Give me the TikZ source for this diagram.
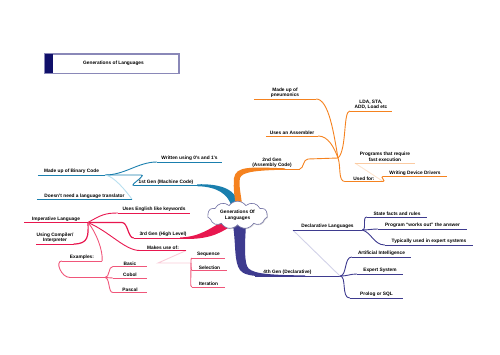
\documentclass[tikz,border=0pt]{standalone}
\usepackage{fontspec}
\setmainfont{Liberation Sans}
\usetikzlibrary{shapes.symbols,shadows}
\definecolor{teal1}{HTML}{1A7FAE}
\definecolor{teallt}{HTML}{B8DFEF}
\definecolor{orng}{HTML}{F5821F}
\definecolor{orlt}{HTML}{FBCBA2}
\definecolor{orfaint}{HTML}{FDE4CE}
\definecolor{crim}{HTML}{E8174F}
\definecolor{pinkl}{HTML}{F0567A}
\definecolor{pinkf}{HTML}{F9CCD8}
\definecolor{indg}{HTML}{3E3B8F}
\definecolor{indf}{HTML}{D2D2E8}
\definecolor{navy}{HTML}{10106A}
\definecolor{cloudline}{HTML}{7474A6}
\definecolor{boxline}{HTML}{8A88B8}
\begin{document}
\begin{tikzpicture}[x=1pt,y=-1pt,
  every node/.style={font=\fontsize{4.8}{5.6}\selectfont\bfseries},
  topic/.style={anchor=south, inner xsep=0pt, inner ysep=1.2pt, align=center},
  conn/.style={line width=0.9pt},
  heavy/.style={line width=1.2pt}]
\useasboundingbox (0,0) rectangle (500,354);

% title
\node[draw=boxline, fill=white, line width=0.6pt, minimum width=134, minimum height=19, inner sep=0pt,
  drop shadow={shadow xshift=1pt, shadow yshift=-1pt, opacity=0.35}] (tbox) at (111.5,63.5) {};
\fill[navy] (tbox.north west) rectangle ([xshift=9pt]tbox.south west);
\draw[boxline, line width=0.6pt] (tbox.north west) rectangle (tbox.south east);
\node (ttext) at (113.5,63.5) {Generations of Languages};

% thick branches
\fill[teal1] (197,184.3) .. controls (222,183.5) and (236,190) .. (239,204)
  -- (231,205) .. controls (228,195) and (218,186.5) .. (197,186.2) -- cycle;
\fill[orng] (285,168.3) .. controls (250,167) and (236,166) .. (234,178)
  .. controls (233,190) and (235,198) .. (235.5,204)
  -- (242,204) .. controls (241,195) and (238.5,185) .. (240,178)
  .. controls (242,172) and (255,170.3) .. (285,169.7) -- cycle;
\fill[crim] (180,237.4) .. controls (200,237) and (210,228) .. (223,221.5)
  -- (231,226) .. controls (218,235) and (205,240) .. (180,238.8) -- cycle;
\fill[indg] (233,225) .. controls (236,245) and (234,262) .. (240,270)
  .. controls (245,276.5) and (255,277) .. (305,276.8)
  -- (305,275.4) .. controls (262,275) and (250,273) .. (247,266)
  .. controls (244,258) and (245,240) .. (246,225) -- cycle;

% root
\node[cloud, cloud puffs=11, cloud puff arc=110, aspect=2.3, draw=cloudline, fill=white,
  line width=0.6pt, minimum width=60, minimum height=27, inner sep=0pt, align=center,
  drop shadow={shadow xshift=0.8pt, shadow yshift=-0.8pt, opacity=0.3}] (root) at (237.5,215)
  {Generations Of\\Languages};

% ---- 1st Gen
\node[topic, minimum width=64] (g1) at (166,185.5) {1st Gen (Machine Code)};
\node[topic, minimum width=67] (bin) at (71.5,175) {Made up of Binary Code};
\node[topic, minimum width=65] (wri) at (189.5,162) {Written using 0’s and 1’s};
\node[topic, minimum width=95] (tra) at (84.5,199.5) {Doesn’t need a language translator};
\coordinate (j1) at (105,175);
\coordinate (h1) at (141,175);
\draw[teal1, conn] (g1.south west) .. controls +(-5,0) and +(6,0) .. (h1) -- (j1);
\draw[teal1, conn] (j1) .. controls (125,175) and (138,162) .. (wri.south west);
\draw[teallt, conn] (tra.south east) .. controls (126,191) and (114,176) .. (j1);

% ---- 2nd Gen
\node[topic, minimum width=55] (g2) at (272,169) {2nd Gen\\(Assembly Code)};
\node[topic, minimum width=62] (pne) at (285,99) {Made up of\\pneumonics};
\node[topic, minimum width=52] (asm) at (292,136) {Uses an Assembler};
\node[topic, minimum width=42] (lda) at (371,111) {LDA, STA,\\ADD, Load etc};
\node[topic, minimum width=38] (usd) at (364,181.5) {Used for:};
\node[topic, minimum width=60] (prg) at (385,163) {Programs that require\\fast execution};
\node[topic, minimum width=64] (drv) at (415,176.5) {Writing Device Drivers};
\coordinate (j2) at (338,158);
\coordinate (h2) at (308,159);
\draw[orng, conn] (g2.south east) .. controls +(4,0) and +(-5,0) .. (h2) -- (j2);
\draw[orng, conn] (pne.south east) .. controls (329,99) and (334,135) .. (j2);
\draw[orng, conn] (asm.south east) .. controls (328,136) and (334,147) .. (j2);
\draw[orng, conn] (j2) .. controls (347,150) and (343,111) .. (lda.south west);
\draw[orng, conn] (j2) .. controls (341,166) and (338,181.5) .. (usd.south west);
\draw[orfaint, conn] (usd.south east) -- (prg.south west);
\draw[orng, conn] (usd.south east) .. controls +(3,0) and +(-3,0) .. (drv.south west);

% ---- 3rd Gen
\node[topic, minimum width=58] (g3) at (163,238) {3rd Gen (High Level)};
\node[topic, minimum width=63] (imp) at (56,222.5) {Imperative Language};
\node[topic, minimum width=72] (eng) at (154,213) {Uses English like keywords};
\node[topic, minimum width=30] (cmp) at (55,244) {Using Compiler/\\Interpreter};
\node[topic, minimum width=46] (mak) at (163,250.5) {Makes use of:};
\node[topic, minimum width=40] (exa) at (82,261) {Examples:};
\node[topic, minimum width=34] (bas) at (130,266.5) {Basic};
\node[topic, minimum width=34] (cob) at (130,278) {Cobol};
\node[topic, minimum width=34] (pas) at (130,292.5) {Pascal};
\node[topic, minimum width=33] (seq) at (208.5,258) {Sequence};
\node[topic, minimum width=35] (sel) at (209.5,270.5) {Selection};
\node[topic, minimum width=33] (ite) at (208.5,287) {Iteration};
\coordinate (j3) at (88,222.5);
\coordinate (h3) at (122,222.5);
\coordinate (j4) at (105,277.5);
\coordinate (h4) at (70,277.5);
\coordinate (jm) at (191,263);
\coordinate (hm) at (158,263);
\draw[crim, heavy] (g3.south west) .. controls +(-6,0) and +(6,0) .. (h3) -- (j3);
\draw[crim, conn] (j3) .. controls (101,215) and (105,213) .. (eng.south west);
\draw[crim, heavy] (cmp.south east) .. controls (88.5,244) and (88.5,236) .. (j3);
\draw[crim, conn] (j3) .. controls (110,232) and (125,250.5) .. (mak.south west);
\draw[pinkl, conn] (j3) .. controls (96,232) and (103,250) .. (exa.south east);
\draw[pinkl, conn] (exa.south west) .. controls +(-7,0) and +(-9,0) .. (h4) -- (j4);
\draw[pinkl, conn] (j4) .. controls (110,277.5) and (108,266.5) .. (bas.south west);
\draw[pinkl, conn] (j4) -- (cob.south west);
\draw[pinkl, conn] (j4) .. controls (110,277.5) and (108,292.5) .. (pas.south west);
\draw[pinkf, conn] (mak.south east) -- (hm) -- (jm);
\draw[pinkl, conn] (jm) .. controls (191,259) and (191,258) .. (seq.south west);
\draw[pinkl, conn] (jm) .. controls (191,268) and (191,270.5) .. (sel.south west);
\draw[pinkl, conn] (jm) .. controls (191,281) and (190,287) .. (ite.south west);

% ---- 4th Gen
\node[topic, minimum width=64] (g4) at (287.5,276) {4th Gen (Declarative)};
\node[topic, minimum width=59] (ai) at (381.5,257) {Artificial Intelligence};
\node[topic, minimum width=46] (exs) at (380,274) {Expert System};
\node[topic, minimum width=53] (pro) at (376.5,298) {Prolog or SQL};
\node[topic, minimum width=69] (dec) at (327.5,230) {Declarative Languages};
\node[topic, minimum width=60] (sta) at (397,217) {State facts and rules};
\node[topic, minimum width=89] (wor) at (422.5,229) {Program “works out” the answer};
\node[topic, minimum width=88] (typ) at (429,245) {Typically used in expert systems};
\coordinate (j5) at (340,276);
\draw[indg, conn] (g4.south east) -- (j5);
\draw[indg, conn] (j5) .. controls (347,276) and (344,257) .. (ai.south west);
\draw[indg, conn] (j5) .. controls (348,276) and (350,274) .. (exs.south west);
\draw[indg, conn] (j5) .. controls (347,276) and (341,298) .. (pro.south west);
\draw[indf, conn] (dec.south west) -- (j5);
\draw[indg, conn] (dec.south east) .. controls (367,230) and (362,217) .. (sta.south west);
\draw[indg, conn] (dec.south east) .. controls (368,230) and (372,229) .. (wor.south west);
\draw[indg, conn] (dec.south east) .. controls (371,232) and (374,245) .. (typ.south west);

% underlines
\foreach \n/\c in {g1/teal1,bin/teal1,wri/teal1,tra/teal1,
  g2/orng,pne/orng,asm/orng,lda/orng,usd/orng,prg/orlt,drv/orng,
  g3/crim,imp/crim,eng/crim,cmp/crim,mak/crim,exa/pinkl,bas/pinkl,cob/pinkl,pas/pinkl,
  seq/pinkl,sel/pinkl,ite/pinkl,
  g4/indg,ai/indg,exs/indg,pro/indg,dec/indg,sta/indg,wor/indg,typ/indg}
  \draw[\c, conn] (\n.south west) -- (\n.south east);
\end{tikzpicture}
\end{document}
